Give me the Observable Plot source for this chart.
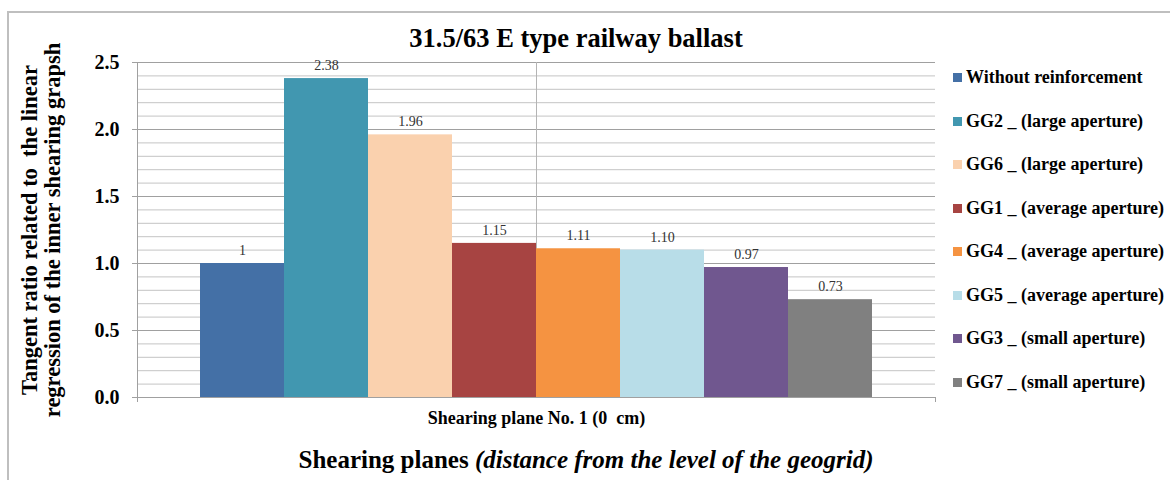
<!DOCTYPE html>
<html>
<head>
<meta charset="utf-8">
<script src="https://cdn.jsdelivr.net/npm/d3@7"></script>
<script src="https://cdn.jsdelivr.net/npm/@observablehq/plot@0.6"></script>
<style>
  html, body { margin: 0; padding: 0; background: #fff; }
  body { font-family: "Liberation Serif", "Times New Roman", serif; }
  #wrap { position: relative; width: 1170px; height: 480px; overflow: hidden; }
  #frame { position: absolute; left: 7px; top: 11px; width: 1200px; height: 520px;
           border-top: 2px solid #bfbfbf; border-left: 2px solid #bfbfbf; }
  #chart { position: absolute; left: 0; top: 0; }
  #title { position: absolute; top: 23px; left: 576px; transform: translateX(-50%);
           font-size: 26.5px; font-weight: bold; white-space: nowrap; color: #000; }
  #xtitle { position: absolute; top: 446px; left: 586px; transform: translateX(-50%);
            font-size: 25px; font-weight: bold; white-space: nowrap; color: #000; }
  #legend { position: absolute; left: 953px; top: 56px; }
  .row { display: flex; align-items: center; height: 43.5px; font-size: 18px; font-weight: bold;
         white-space: nowrap; color: #000; }
  .sw { width: 9px; height: 9px; margin-right: 4px; flex: none; }
</style>
</head>
<body>
<div id="wrap">
  <div id="frame"></div>
  <div id="chart"></div>
  <div id="title"></div>
  <div id="xtitle"></div>
  <div id="legend"></div>
</div>
<script>
// Chart text
const chartTitle = "31.5/63 E type railway ballast";
const yTitleLines = ["Tangent ratio related to  the linear", "regression of the inner shearing grapsh"];
const xTitleMain = "Shearing planes ";
const xTitleNote = "(distance from the level of the geogrid)";
const category = "Shearing plane No. 1 (0  cm)";

// Series (one bar each within the single shearing plane)
const series = [
  "Without reinforcement",
  "GG2 _ (large aperture)",
  "GG6 _ (large aperture)",
  "GG1 _ (average aperture)",
  "GG4 _ (average aperture)",
  "GG5 _ (average aperture)",
  "GG3 _ (small aperture)",
  "GG7 _ (small aperture)"
];
const values = [1, 2.38, 1.96, 1.15, 1.11, 1.10, 0.97, 0.73];
const valueLabels = ["1", "2.38", "1.96", "1.15", "1.11", "1.10", "0.97", "0.73"];
const colors = ["#4470a6", "#4197b0", "#fad1ae", "#a74442", "#f59341", "#b8dde8", "#70578f", "#808080"];

// Axis ticks
const yMajorTicks = [0, 0.5, 1.0, 1.5, 2.0, 2.5];
const yMinorTicks = d3.ticks(0, 2.5, 25);

const data = series.map((name, i) => ({name, i, value: values[i], label: valueLabels[i]}));
const mid = series.length / 2;
const xEdges = [-0.75, series.length + 0.75];

const serif = "Liberation Serif, Times New Roman, serif";

const chart = Plot.plot({
  width: 1170,
  height: 480,
  marginLeft: 137,
  marginRight: 235,
  marginTop: 62,
  marginBottom: 83,
  style: {fontFamily: serif, color: "#000", background: "transparent", overflow: "visible"},
  x: {domain: xEdges, axis: null},
  y: {domain: [0, 2.5], axis: null},
  color: {domain: series, range: colors},
  marks: [
    Plot.ruleY(yMinorTicks, {stroke: "#c4c4c4", strokeWidth: 1}),
    Plot.ruleY(yMajorTicks, {stroke: "#a0a0a0", strokeWidth: 1}),
    Plot.ruleX([mid], {stroke: "#b4b4b4", strokeWidth: 1}),
    Plot.frame({anchor: "left", stroke: "#a0a0a0"}),
    Plot.rectY(data, {x1: "i", x2: d => d.i + 1, y: "value", fill: "name"}),
    Plot.text(data, {x: d => d.i + 0.5, y: "value", text: "label", dy: -13,
                     fontSize: 14, fill: "#333", fontFamily: serif}),
    Plot.axisY({ticks: yMajorTicks, tickFormat: d3.format(".1f"), tickSize: 5, tickPadding: 13,
                fontSize: 20, fontWeight: "bold", stroke: "#a0a0a0", label: null}),
    Plot.axisX({ticks: xEdges, tickFormat: () => "", tickSize: 5, stroke: "#a0a0a0", label: null}),
    Plot.axisX({ticks: [mid], tickFormat: () => category, tickSize: 0, tickPadding: 14,
                fontSize: 18, fontWeight: "bold", label: null}),
    Plot.text([yTitleLines.join("\n")], {frameAnchor: "left", textAnchor: "middle", rotate: -90, dx: -96,
                fontSize: 22.5, fontWeight: "bold", lineHeight: 1.0, fontFamily: serif, fill: "#000"})
  ]
});
document.getElementById("chart").append(chart);

document.getElementById("title").textContent = chartTitle;

const xt = document.getElementById("xtitle");
xt.append(document.createTextNode(xTitleMain));
const em = document.createElement("i");
em.textContent = xTitleNote;
xt.append(em);

const legend = document.getElementById("legend");
series.forEach((name, i) => {
  const row = document.createElement("div");
  row.className = "row";
  const sw = document.createElement("span");
  sw.className = "sw";
  sw.style.background = colors[i];
  row.append(sw, document.createTextNode(name));
  legend.append(row);
});
</script>
</body>
</html>
